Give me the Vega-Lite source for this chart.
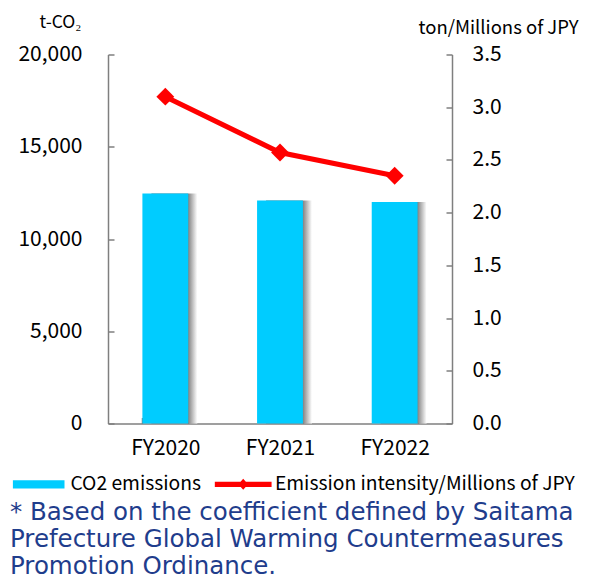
{
  "$schema": "https://vega.github.io/schema/vega-lite/v6.json",
  "width": 344,
  "height": 369,
  "autosize": {"type": "none"},
  "padding": {"left": 108, "top": 54.5, "right": 143, "bottom": 155.5},
  "background": "white",
  "data": {"values": [
    {"year": "FY2020", "co2": 12470, "intensity": 3.10},
    {"year": "FY2021", "co2": 12090, "intensity": 2.57},
    {"year": "FY2022", "co2": 12010, "intensity": 2.35}
  ]},
  "title": {
    "text": ["* Based on the coefficient defined by Saitama", "Prefecture Global Warming Countermeasures", "Promotion Ordinance."],
    "orient": "bottom",
    "anchor": "start",
    "frame": "group",
    "font": "DejaVu Sans",
    "fontSize": 24.5,
    "fontWeight": "normal",
    "color": "#1F3D8C",
    "lineHeight": 27,
    "dx": -98,
    "offset": 5.5
  },
  "config": {
    "view": {"stroke": null},
    "axis": {
      "labelFont": "Noto Sans CJK JP",
      "labelFontSize": 21,
      "labelColor": "#000000",
      "domainColor": "#7f7f7f",
      "domainWidth": 1.5,
      "tickColor": "#7f7f7f",
      "tickWidth": 1.5,
      "grid": false,
      "titleFont": "Noto Sans CJK JP",
      "titleFontWeight": "normal",
      "titleColor": "#000000"
    }
  },
  "encoding": {
    "x": {
      "field": "year",
      "type": "nominal",
      "scale": {"paddingInner": 0.6, "paddingOuter": 0.3},
      "axis": {
        "title": null,
        "labelAngle": 0,
        "tickBand": "extent",
        "tickSize": -6,
        "labelPadding": 20
      }
    }
  },
  "layer": [
    {
      "encoding": {
        "y": {
          "field": "co2",
          "type": "quantitative",
          "scale": {"domain": [0, 20000], "nice": false},
          "axis": {
            "orient": "left",
            "values": [0, 5000, 10000, 15000, 20000],
            "format": ",.0f",
            "tickSize": -6,
            "labelPadding": 32,
            "title": "t-CO₂",
            "titleAngle": 0,
            "titleFontSize": 17.5,
            "titleAlign": "center",
            "titleBaseline": "middle",
            "titleX": -48,
            "titleY": -32
          }
        }
      },
      "layer": [
        {
          "mark": {
            "type": "bar",
            "xOffset": 9,
            "color": {
              "gradient": "linear",
              "x1": 0, "x2": 1, "y1": 0, "y2": 0,
              "stops": [
                {"offset": 0, "color": "#707070"},
                {"offset": 0.8, "color": "#808080"},
                {"offset": 1, "color": "#ffffff"}
              ]
            }
          }
        },
        {
          "mark": {"type": "bar"},
          "encoding": {
            "color": {
              "datum": "CO2 emissions",
              "type": "nominal",
              "scale": {
                "domain": ["CO2 emissions", "Emission intensity/Millions of JPY"],
                "range": ["#00CCFF", "#FF0000"]
              },
              "legend": {
                "orient": "none",
                "direction": "horizontal",
                "legendX": -95.3,
                "legendY": 403.5,
                "title": null,
                "labelFont": "Noto Sans CJK JP",
                "labelFontSize": 19.3,
                "labelLimit": 500,
                "labelColor": "#000000",
                "labelOffset": 5.7,
                "columnPadding": 12.5,
                "symbolSize": 2663,
                "symbolStrokeWidth": 0,
                "encode": {
                  "symbols": {
                    "update": {
                      "shape": {"signal": "datum.value === 'CO2 emissions' ? 'M-1,-0.16H1V0.16H-1Z' : 'M-1.1,-0.1H1.1V0.1H-1.1Z M0,-0.213L0.19,0L0,0.213L-0.19,0Z'"},
                      "fill": {"signal": "datum.value === 'CO2 emissions' ? '#00CCFF' : '#FF0000'"},
                      "strokeWidth": {"value": 0},
                      "opacity": {"value": 1}
                    }
                  }
                }
              }
            }
          }
        }
      ]
    },
    {
      "encoding": {
        "y": {
          "field": "intensity",
          "type": "quantitative",
          "scale": {"domain": [0, 3.5], "nice": false},
          "axis": {
            "orient": "right",
            "values": [0, 0.5, 1, 1.5, 2, 2.5, 3, 3.5],
            "format": ".1f",
            "tickSize": -6,
            "labelPadding": 26,
            "title": "ton/Millions of JPY",
            "titleAngle": 0,
            "titleFontSize": 18.5,
            "titleAlign": "center",
            "titleBaseline": "middle",
            "titleX": 46,
            "titleY": -27
          }
        }
      },
      "layer": [
        {"mark": {"type": "line", "color": "#FF0000", "strokeWidth": 5}},
        {"mark": {"type": "point", "shape": "diamond", "filled": true, "color": "#FF0000", "size": 320, "opacity": 1}}
      ]
    }
  ],
  "resolve": {"scale": {"y": "independent"}}
}
